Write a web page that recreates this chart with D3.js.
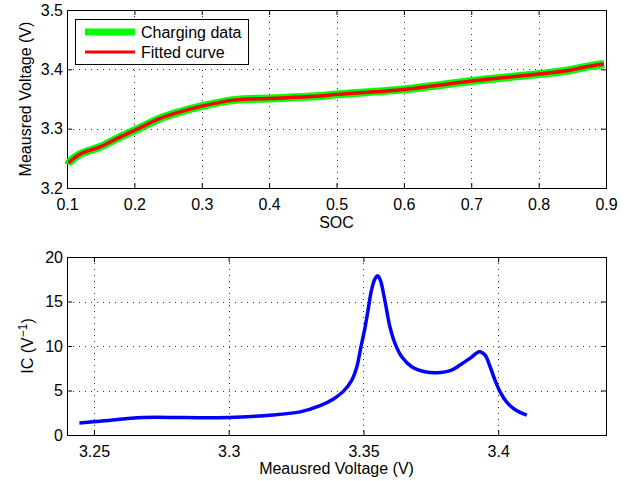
<!DOCTYPE html>
<html><head><meta charset="utf-8">
<script src="https://cdn.jsdelivr.net/npm/d3@7"></script>
<style>body{margin:0;background:#fff}svg{display:block}text{font-family:"Liberation Sans",Arial,sans-serif;fill:#000}</style>
</head><body><svg id="c" width="629" height="481"></svg>
<script>
// Top panel: SOC vs measured voltage
const socCharging = [0.102,0.104,0.119,0.149,0.174,0.201,0.238,0.268,0.300,0.347,0.399,0.475,0.500,0.600,0.700,0.800,0.841,0.871,0.897];
const vCharging   = [3.2395,3.244,3.257,3.2693,3.2834,3.2975,3.3172,3.3284,3.338,3.3481,3.351,3.3549,3.3578,3.3662,3.3802,3.392,3.3976,3.4044,3.409];
const socFitted = [0.102,0.119,0.149,0.174,0.201,0.238,0.268,0.300,0.347,0.399,0.475,0.500,0.600,0.700,0.800,0.841,0.871,0.897];
const vFitted   = [3.242,3.257,3.2693,3.2834,3.2975,3.3172,3.3284,3.338,3.3481,3.351,3.3549,3.3578,3.3662,3.3802,3.392,3.3976,3.4044,3.409];
const socTicks = [0.1,0.2,0.3,0.4,0.5,0.6,0.7,0.8,0.9];
const voltTicksTop = [3.2,3.3,3.4,3.5];
// Bottom panel: incremental capacity
const icVoltage = [3.2446,3.2522,3.2683,3.2832,3.3000,3.3141,3.3265,3.3339,3.3389,3.3426,3.3457,3.3475,3.3490,3.3506,3.3518,3.3530,3.3542,3.3553,3.3564,3.3574,3.3586,3.3598,3.3617,3.3642,3.3679,3.3728,3.3772,3.3827,3.3858,3.3895,3.3930,3.3951,3.3970,3.3988,3.4007,3.4031,3.4062,3.4106];
const icValue   = [1.35,1.54,1.96,1.96,1.96,2.2,2.6,3.3,4.05,4.93,6.17,7.6,9.8,12.1,14.2,16.3,17.5,17.9,17.3,15.94,14.06,12.18,10.3,8.79,7.67,7.1,6.99,7.29,7.86,8.61,9.36,8.99,7.67,6.17,4.85,3.72,2.86,2.22];
const voltTicksBottom = [3.25,3.3,3.35,3.4];
const icTicks = [0,5,10,15,20];

const svg = d3.select("#c");
const L = 67, R = 606;

function panel(opt){
  const g = svg.append("g");
  const x = d3.scaleLinear().domain(opt.xd).range([L,R]);
  const y = d3.scaleLinear().domain(opt.yd).range([opt.bottom,opt.top]);
  // grid
  g.append("g").selectAll("line").data(opt.xt.filter(v=>v>opt.xd[0]+1e-9&&v<opt.xd[1]-1e-9)).join("line")
    .attr("x1",d=>Math.round(x(d))+0.5).attr("x2",d=>Math.round(x(d))+0.5).attr("y1",opt.top).attr("y2",opt.bottom)
    .attr("stroke","#333").attr("stroke-width",1).attr("stroke-dasharray","1,5");
  g.append("g").selectAll("line").data(opt.yt.filter(v=>v>opt.yd[0]+1e-9&&v<opt.yd[1]-1e-9)).join("line")
    .attr("y1",d=>Math.round(y(d))+0.5).attr("y2",d=>Math.round(y(d))+0.5).attr("x1",L).attr("x2",R)
    .attr("stroke","#333").attr("stroke-width",1).attr("stroke-dasharray","1,5");
  // axes
  const ax = (gen, tf)=>{const a = g.append("g").attr("transform",tf).call(gen);
    a.select(".domain").remove(); a.selectAll("line").attr("stroke","#000"); return a;};
  const bx = ax(d3.axisBottom(x).tickValues(opt.xt).tickSize(-5).tickPadding(11).tickFormat(d=>d3.format("")(+d.toFixed(3))), `translate(0,${opt.bottom})`);
  bx.selectAll("text").style("font-size","16px").attr("dy","0.71em");
  ax(d3.axisTop(x).tickValues(opt.xt).tickSize(-5).tickFormat(""), `translate(0,${opt.top})`);
  const ly = ax(d3.axisLeft(y).tickValues(opt.yt).tickSize(-5).tickPadding(4).tickFormat(d=>d3.format("")(+d.toFixed(3))), `translate(${L},0)`);
  ly.selectAll("text").style("font-size","16px");
  ax(d3.axisRight(y).tickValues(opt.yt).tickSize(-5).tickFormat(""), `translate(${R},0)`);
  g.selectAll(".tick text").attr("fill","#000");
  // box
  g.append("rect").attr("x",L+0.5).attr("y",opt.top+0.5).attr("width",R-L).attr("height",opt.bottom-opt.top)
    .attr("fill","none").attr("stroke","#000").attr("stroke-width",1);
  return {g,x,y};
}

// Top
const p1 = panel({xd:[0.1,0.9], yd:[3.2,3.5], xt:socTicks, yt:voltTicksTop, top:10, bottom:188});
const line1 = d3.line().x(d=>p1.x(d[0])).y(d=>p1.y(d[1])).curve(d3.curveCatmullRom.alpha(0.5));
p1.g.append("path").attr("d",line1(d3.zip(socCharging,vCharging))).attr("fill","none").attr("stroke","#00ff00").attr("stroke-width",8).attr("stroke-linejoin","round");
p1.g.append("path").attr("d",line1(d3.zip(socFitted,vFitted))).attr("fill","none").attr("stroke","#ff0000").attr("stroke-width",3.5);
// legend
const lg = p1.g.append("g");
lg.append("rect").attr("x",75.5).attr("y",19.5).attr("width",173).attr("height",45).attr("fill","#fff").attr("stroke","#000");
lg.append("line").attr("x1",85).attr("x2",135).attr("y1",32).attr("y2",32).attr("stroke","#00ff00").attr("stroke-width",7);
lg.append("line").attr("x1",85).attr("x2",135).attr("y1",52).attr("y2",52).attr("stroke","#ff0000").attr("stroke-width",3);
lg.append("text").attr("x",141).attr("y",38).style("font-size","16px").text("Charging data");
lg.append("text").attr("x",141).attr("y",58).style("font-size","16px").text("Fitted curve");
svg.append("text").attr("x",336.5).attr("y",228).attr("text-anchor","middle").style("font-size","16px").text("SOC");
svg.append("text").attr("transform","translate(31,99) rotate(-90)").attr("text-anchor","middle").style("font-size","16px").text("Meausred Voltage (V)");

// Bottom
const p2 = panel({xd:[3.24,3.44], yd:[0,20], xt:voltTicksBottom, yt:icTicks, top:257, bottom:435});
const line2 = d3.line().x(d=>p2.x(d[0])).y(d=>p2.y(d[1])).curve(d3.curveCatmullRom.alpha(0.5));
p2.g.append("path").attr("d",line2(d3.zip(icVoltage,icValue))).attr("fill","none").attr("stroke","#0000ff").attr("stroke-width",3.5).attr("stroke-linejoin","round");
svg.append("text").attr("x",336.5).attr("y",474).attr("text-anchor","middle").style("font-size","16px").text("Meausred Voltage (V)");
const yl = svg.append("text").attr("transform","translate(33,346) rotate(-90)").attr("text-anchor","middle").style("font-size","16px");
yl.append("tspan").text("IC (V");
yl.append("tspan").attr("dy","-6").style("font-size","12px").text("−1");
yl.append("tspan").attr("dy","6").text(")");
</script></body></html>
